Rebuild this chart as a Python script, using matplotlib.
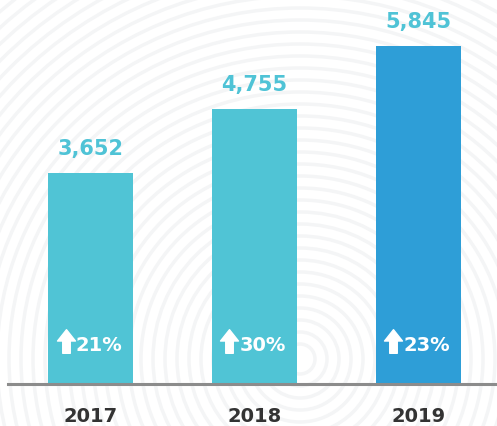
import matplotlib
matplotlib.use('Agg')
import matplotlib.pyplot as plt
import matplotlib.transforms as mtransforms
import numpy as np
from matplotlib.path import Path

# chart data
years = ['2017', '2018', '2019']
values = [3652, 4755, 5845]
growth = ['21%', '30%', '23%']
bar_colors = ['#50C4D5', '#50C4D5', '#2E9ED7']

label_color = '#4FC3D6'
year_color = '#333333'

fig = plt.figure(figsize=(4.97, 4.27), dpi=100)
ax = fig.add_axes([0, 0, 1, 1])

x = np.arange(len(years))
ax.set_xlim(-0.552, 2.479)
ax.set_ylim(-726, 6657)
ax.axis('off')

# faint fingerprint-like background
bg = fig.add_axes([0, 0, 1, 1], zorder=-1)
bg.set_xlim(0, 497)
bg.set_ylim(427, 0)
bg.axis('off')
for r in range(15, 700, 12):
    bg.add_patch(plt.Circle((300, 360), r, fill=False, ec='#f4f5f6', lw=2.5))

ax.bar(x, values, width=0.52, color=bar_colors, zorder=2)
ax.axhline(0, xmin=8 / 497, xmax=1, color='#8c8c8c', lw=2.2, zorder=3)

# upward arrow marker
arrow = Path([(-0.38, 0.02), (0, 0.5), (0.38, 0.02), (0.16, 0.02), (0.16, -0.5),
              (-0.16, -0.5), (-0.16, 0.02), (-0.38, 0.02)],
             [Path.MOVETO] + [Path.LINETO] * 6 + [Path.CLOSEPOLY])

for i, (v, g) in enumerate(zip(values, growth)):
    ax.annotate(f'{v:,}', (i, v), xytext=(0, 11), textcoords='offset points',
                ha='center', va='bottom', fontsize=15, fontweight='bold',
                color=label_color)
    ln, = ax.plot(i, 0, marker=arrow, markersize=17, color='white', mec='white',
                  zorder=4, linestyle='none')
    ln.set_transform(ax.transData + mtransforms.ScaledTranslation(-25 / 100, 43 / 100, fig.dpi_scale_trans))
    ax.annotate(g, (i, 0), xytext=(-10.5, 28.5), textcoords='offset points',
                ha='left', va='center', fontsize=14, fontweight='bold',
                color='white', zorder=5)
    ax.annotate(years[i], (i, 0), xytext=(0, -22.5), textcoords='offset points',
                ha='center', va='center', fontsize=14, fontweight='bold',
                color=year_color)

fig.savefig('out.png', dpi=100)
